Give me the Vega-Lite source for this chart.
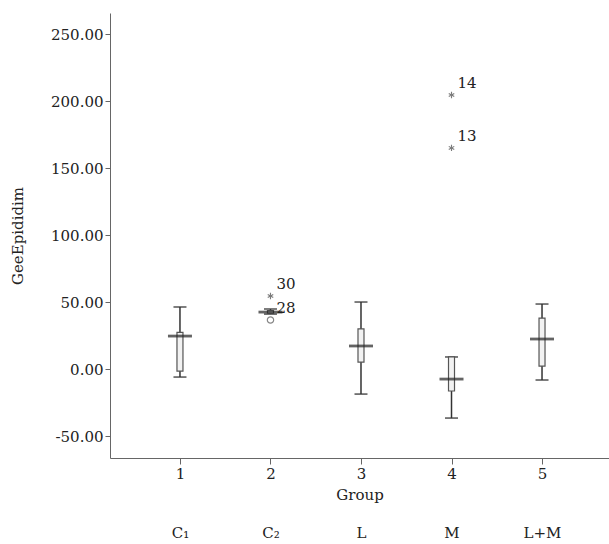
{
  "$schema": "https://vega.github.io/schema/vega-lite/v6.json",
  "width": 499,
  "height": 445,
  "autosize": {"type": "none"},
  "padding": {"left": 110, "top": 13, "right": 0, "bottom": 86},
  "background": "white",
  "config": {
    "view": {"stroke": null},
    "font": "DejaVu Serif",
    "axis": {"labelFont": "DejaVu Serif", "titleFont": "DejaVu Serif", "labelColor": "#222", "titleColor": "#222", "domainColor": "#666", "tickColor": "#666", "grid": false, "labelFontSize": 15, "titleFontSize": 15, "titleFontWeight": "normal"}
  },
  "datasets": {
    "boxes": [
      {"group": 1, "wlow": -6, "whigh": 46.3, "q1": -1.5, "q3": 27.3, "center": 24.6},
      {"group": 2, "wlow": 41, "whigh": 44.8, "q1": 41.5, "q3": 43.6, "center": 42.5},
      {"group": 3, "wlow": -18.7, "whigh": 50, "q1": 5.2, "q3": 29.9, "center": 17.2},
      {"group": 4, "wlow": -36.6, "whigh": 9, "q1": -16.4, "q3": 9, "center": -7.5},
      {"group": 5, "wlow": -8.2, "whigh": 48.5, "q1": 2.2, "q3": 38, "center": 22.4}
    ],
    "outliers": [
      {"group": 2, "value": 54.5, "label": "30", "kind": "extreme"},
      {"group": 2, "value": 36.6, "label": "28", "kind": "outlier"},
      {"group": 4, "value": 204.5, "label": "14", "kind": "extreme"},
      {"group": 4, "value": 165, "label": "13", "kind": "extreme"}
    ]
  },
  "layer": [
    {
      "data": {"name": "boxes"},
      "layer": [
        {
          "mark": {"type": "rule", "color": "#333", "strokeWidth": 1.5},
          "encoding": {
            "x": {"field": "group", "type": "quantitative", "scale": {"domain": [0.227, 5.74], "nice": false, "zero": false, "padding": 0},
              "axis": {"orient": "bottom", "values": [1, 2, 3, 4, 5], "format": "d", "title": "Group", "tickSize": 6, "labelPadding": 2, "titlePadding": 6}},
            "y": {"field": "wlow", "type": "quantitative", "scale": {"domain": [-66.4, 265.7], "nice": false, "zero": false, "padding": 0},
              "axis": {"values": [-50, 0, 50, 100, 150, 200, 250], "labelExpr": "replace(format(datum.value, '.2f'), '−', '-')", "title": "GeeEpididim", "tickSize": 5, "labelPadding": 2, "titlePadding": 25}},
            "y2": {"field": "whigh"}
          }
        },
        {
          "mark": {"type": "tick", "orient": "horizontal", "color": "#333", "size": 13, "thickness": 1.8},
          "encoding": {"x": {"field": "group", "type": "quantitative"}, "y": {"field": "wlow", "type": "quantitative"}}
        },
        {
          "mark": {"type": "tick", "orient": "horizontal", "color": "#333", "size": 13, "thickness": 1.8},
          "encoding": {"x": {"field": "group", "type": "quantitative"}, "y": {"field": "whigh", "type": "quantitative"}}
        },
        {
          "mark": {"type": "bar", "width": 6, "fill": "#f2f2f2", "stroke": "#555", "strokeWidth": 1.2},
          "encoding": {"x": {"field": "group", "type": "quantitative"}, "y": {"field": "q1", "type": "quantitative"}, "y2": {"field": "q3"}}
        },
        {
          "mark": {"type": "tick", "orient": "horizontal", "color": "#222", "size": 24, "thickness": 2.8},
          "encoding": {"x": {"field": "group", "type": "quantitative"}, "y": {"field": "center", "type": "quantitative"}}
        }
      ]
    },
    {
      "data": {"name": "outliers"},
      "layer": [
        {
          "transform": [{"filter": "datum.kind === 'extreme'"}],
          "mark": {"type": "point", "shape": "M0,-1L0,1M-0.87,-0.5L0.87,0.5M-0.87,0.5L0.87,-0.5", "size": 40, "stroke": "#444", "strokeWidth": 1.1, "filled": false},
          "encoding": {"x": {"field": "group", "type": "quantitative", "axis": null}, "y": {"field": "value", "type": "quantitative"}}
        },
        {
          "transform": [{"filter": "datum.kind === 'outlier'"}],
          "mark": {"type": "point", "shape": "circle", "size": 40, "stroke": "#555", "strokeWidth": 1.2, "filled": false},
          "encoding": {"x": {"field": "group", "type": "quantitative", "axis": null}, "y": {"field": "value", "type": "quantitative"}}
        },
        {
          "mark": {"type": "text", "align": "left", "baseline": "middle", "dx": 6, "dy": -12, "fontSize": 15, "font": "DejaVu Serif", "color": "#222"},
          "encoding": {"x": {"field": "group", "type": "quantitative", "axis": null}, "y": {"field": "value", "type": "quantitative"}, "text": {"field": "label"}}
        }
      ]
    },
    {
      "data": {"name": "boxes"},
      "mark": {"type": "point", "opacity": 0},
      "encoding": {
        "x": {"field": "group", "type": "quantitative",
          "axis": {"orient": "bottom", "values": [1, 2, 3, 4, 5], "offset": 67, "domain": false, "ticks": false, "title": null, "labelPadding": 0,
            "labelExpr": "['C₁','C₂','L','M','L+M'][datum.value - 1]"}},
        "y": {"field": "center", "type": "quantitative"}
      }
    }
  ],
  "resolve": {"axis": {"x": "independent"}}
}
